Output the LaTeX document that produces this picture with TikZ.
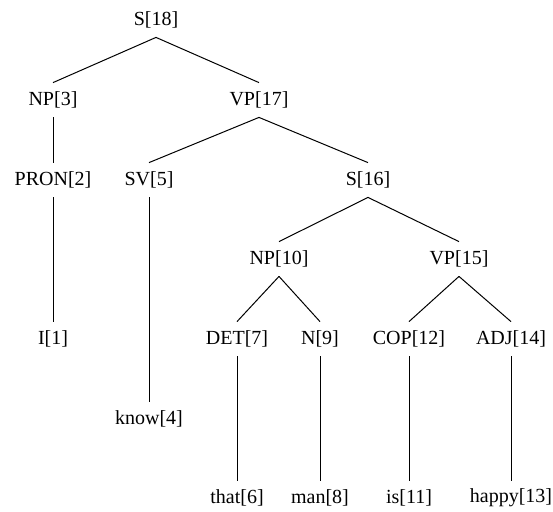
\documentclass[tikz,border=0pt]{standalone}
\usepackage{fontspec}
\setmainfont{Liberation Serif}
\usepackage{tikz}
\usetikzlibrary{positioning}

\tikzset{
	cat/.style={auto, rectangle, inner sep=0pt, minimum height=17pt, text centered},
	branche/.style={draw, line width=0.5pt}
}

\begin{document}
\begin{tikzpicture}[x=0.5pt, y=-0.5pt]
			\useasboundingbox (0,0) rectangle (553,511);
			
			% niveaux de l'arbre
			\node[cat] (s18) at (156,20) {S[18]};
			\node[cat] (np3) at (53,100) {NP[3]};
			\node[cat] (vp17) at (259,100) {VP[17]};
			\node[cat] (pron2) at (53,180) {PRON[2]};
			\node[cat] (sv5) at (149,180) {SV[5]};
			\node[cat] (s16) at (368,180) {S[16]};
			\node[cat] (np10) at (279,259) {NP[10]};
			\node[cat] (vp15) at (459,259) {VP[15]};
			\node[cat] (i1) at (53,339) {I[1]};
			\node[cat] (det7) at (237,339) {DET[7]};
			\node[cat] (n9) at (320,339) {N[9]};
			\node[cat] (cop12) at (409,339) {COP[12]};
			\node[cat] (adj14) at (511,339) {ADJ[14]};
			\node[cat] (know4) at (149,419) {know[4]};
			\node[cat] (that6) at (237,498) {that[6]};
			\node[cat] (man8) at (320,498) {man[8]};
			\node[cat] (is11) at (409,498) {is[11]};
			\node[cat] (happy13) at (511,498) {happy[13]};
			
			\path [branche] (s18.south) -- (np3.north);
			\path [branche] (s18.south) -- (vp17.north);
			\path [branche] (np3.south) -- (pron2.north);
			\path [branche] (pron2.south) -- (i1.north);
			\path [branche] (vp17.south) -- (sv5.north);
			\path [branche] (vp17.south) -- (s16.north);
			\path [branche] (sv5.south) -- (know4.north);
			\path [branche] (s16.south) -- (np10.north);
			\path [branche] (s16.south) -- (vp15.north);
			\path [branche] (np10.south) -- (det7.north);
			\path [branche] (np10.south) -- (n9.north);
			\path [branche] (vp15.south) -- (cop12.north);
			\path [branche] (vp15.south) -- (adj14.north);
			\path [branche] (det7.south) -- (that6.north);
			\path [branche] (n9.south) -- (man8.north);
			\path [branche] (cop12.south) -- (is11.north);
			\path [branche] (adj14.south) -- (happy13.north);
		\end{tikzpicture}
\end{document}
